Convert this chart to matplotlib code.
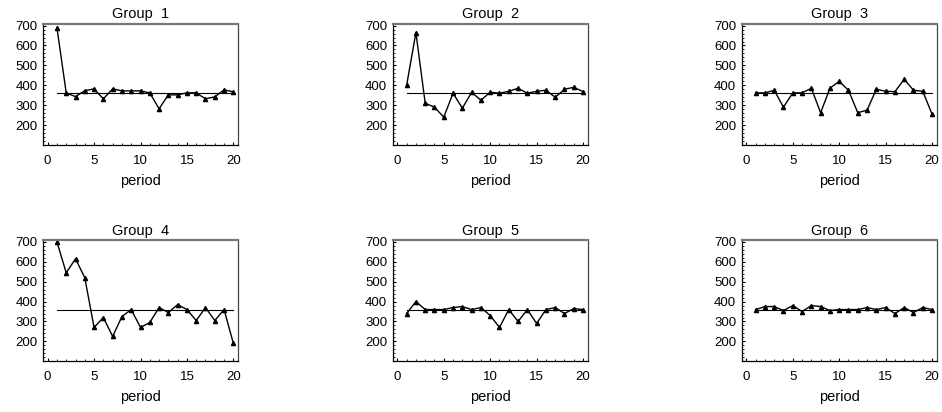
import matplotlib
matplotlib.use("Agg")
import matplotlib.pyplot as plt
from matplotlib.ticker import MultipleLocator

plt.rcParams['font.family'] = ['Liberation Sans', 'DejaVu Sans']

periods = list(range(1, 21))
titles = ["Group  1", "Group  2", "Group  3", "Group  4", "Group  5", "Group  6"]
group1 = [690, 362, 343, 373, 382, 332, 382, 372, 372, 372, 362, 282, 352, 352, 362, 362, 332, 342, 377, 367]
group2 = [400, 665, 310, 290, 240, 360, 285, 365, 325, 365, 360, 370, 385, 360, 370, 375, 340, 380, 390, 368]
group3 = [362, 362, 375, 290, 362, 362, 385, 262, 385, 420, 375, 262, 275, 380, 370, 368, 430, 375, 370, 255]
group4 = [700, 545, 615, 520, 270, 320, 225, 325, 360, 270, 295, 370, 345, 385, 360, 305, 370, 305, 360, 190]
group5 = [340, 400, 360, 360, 360, 370, 375, 360, 370, 330, 270, 360, 300, 360, 290, 360, 370, 340, 365, 360]
group6 = [360, 375, 375, 355, 380, 350, 380, 375, 355, 360, 360, 360, 370, 360, 370, 340, 370, 345, 370, 360]
groups = [group1, group2, group3, group4, group5, group6]
equilibrium = 360

W, H = 942, 412
fig = plt.figure(figsize=(W / 100, H / 100), dpi=100)
lefts = [43, 392.7, 741.7]
tops = [24, 240.3]
aw, ah = 195, 121

for i, (t, vals) in enumerate(zip(titles, groups)):
    r, c = divmod(i, 3)
    ax = fig.add_axes([lefts[c] / W, 1 - (tops[r] + ah) / H, aw / W, ah / H])
    ax.plot(periods, vals, color='black', lw=1.0, marker='^', ms=3, mfc='black', mec='black')
    ax.plot([periods[0], periods[-1]], [equilibrium, equilibrium], color='black', lw=0.8)
    ax.set_xlim(-0.5, 20.5)
    ax.set_ylim(100, 708)
    ax.set_xticks([0, 5, 10, 15, 20])
    ax.set_yticks([200, 300, 400, 500, 600, 700])
    ax.xaxis.set_minor_locator(MultipleLocator(1))
    ax.yaxis.set_minor_locator(MultipleLocator(20))
    ax.tick_params(which='both', direction='in', top=False, right=False, labelsize=9.5)
    ax.tick_params(axis='x', which='major', length=2.5, pad=7)
    ax.tick_params(axis='y', which='major', length=2.5, pad=4)
    ax.tick_params(which='minor', length=1.5)
    ax.set_title(t, fontsize=10.5, pad=4)
    ax.set_xlabel('period', fontsize=10.5, labelpad=5)
    ax.spines['top'].set_color('#777777')
    ax.spines['top'].set_linewidth(1.6)
    ax.spines['right'].set_color('#444444')
    for s in ['left', 'bottom']:
        ax.spines[s].set_linewidth(0.9)
    ax.spines['right'].set_linewidth(0.9)

fig.savefig('out.png', dpi=100)
